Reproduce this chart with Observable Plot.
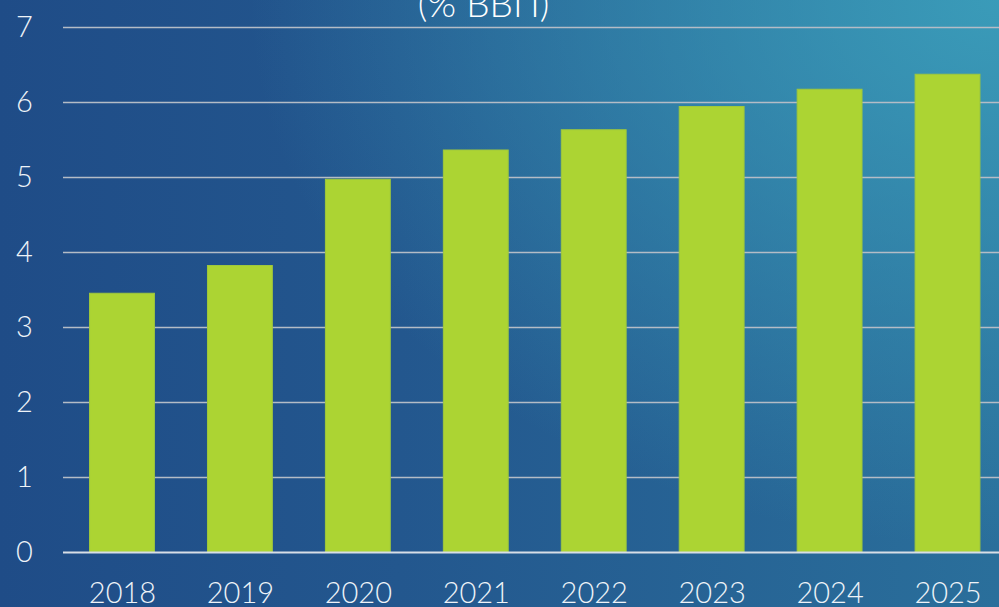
<!DOCTYPE html>
<html>
<head>
<meta charset="utf-8">
<script src="https://cdn.jsdelivr.net/npm/d3@7"></script>
<script src="https://cdn.jsdelivr.net/npm/@observablehq/plot@0.6"></script>
<style>
  html, body { margin: 0; padding: 0; }
  body {
    width: 999px; height: 607px; overflow: hidden;
    background:
      radial-gradient(ellipse 75% 90% at 100% 0%, rgba(60,160,188,0.9) 0%, rgba(60,160,188,0) 100%),
      linear-gradient(90deg, #1f4c87 0%, #23578e 40%, #2a6f9b 100%);
    font-family: Lato, "Open Sans", sans-serif;
  }
  svg { display: block; overflow: hidden; }
</style>
</head>
<body>
<div id="chart"></div>
<script>
const title = "(% ВВП)";
const years = ["2018", "2019", "2020", "2021", "2022", "2023", "2024", "2025"];
const values = [3.45, 3.82, 4.97, 5.36, 5.63, 5.94, 6.17, 6.37];
const yTicks = [0, 1, 2, 3, 4, 5, 6, 7];

const data = years.map((y, i) => ({year: y, value: values[i]}));

const chart = Plot.plot({
  width: 999,
  height: 607,
  marginTop: 27,
  marginBottom: 55,
  marginLeft: 63,
  marginRight: 0,
  style: {background: "transparent", color: "#eef3f8", fontFamily: "Lato, 'Open Sans', sans-serif", fontWeight: 300, overflow: "hidden"},
  x: {domain: years, range: [63, 1006.5], round: false, paddingInner: 0.45, paddingOuter: 0.225, label: null},
  y: {domain: [0, 7], label: null},
  marks: [
    Plot.gridY(yTicks.filter(d => d > 0), {stroke: "#b4bcc6", strokeOpacity: 1, strokeWidth: 1.3}),
    Plot.barY(data, {x: "year", y: "value", fill: "#acd433", stroke: "#9fc83c", strokeWidth: 1}),
    Plot.ruleY([0], {stroke: "#d8dee6", strokeWidth: 2}),
    Plot.axisX({tickSize: 0, tickPadding: 30, fontSize: 29, fill: "#eef3f8"}),
    Plot.axisY({ticks: yTicks, tickFormat: "d", tickSize: 0, tickPadding: 0, textAnchor: "middle", dx: -39, fontSize: 29, fill: "#eef3f8"}),
    Plot.text([title], {frameAnchor: "top", lineAnchor: "bottom", dx: -48, dy: -11, fontSize: 37, fill: "#ffffff"})
  ]
});
document.getElementById("chart").appendChild(chart);
</script>
</body>
</html>
